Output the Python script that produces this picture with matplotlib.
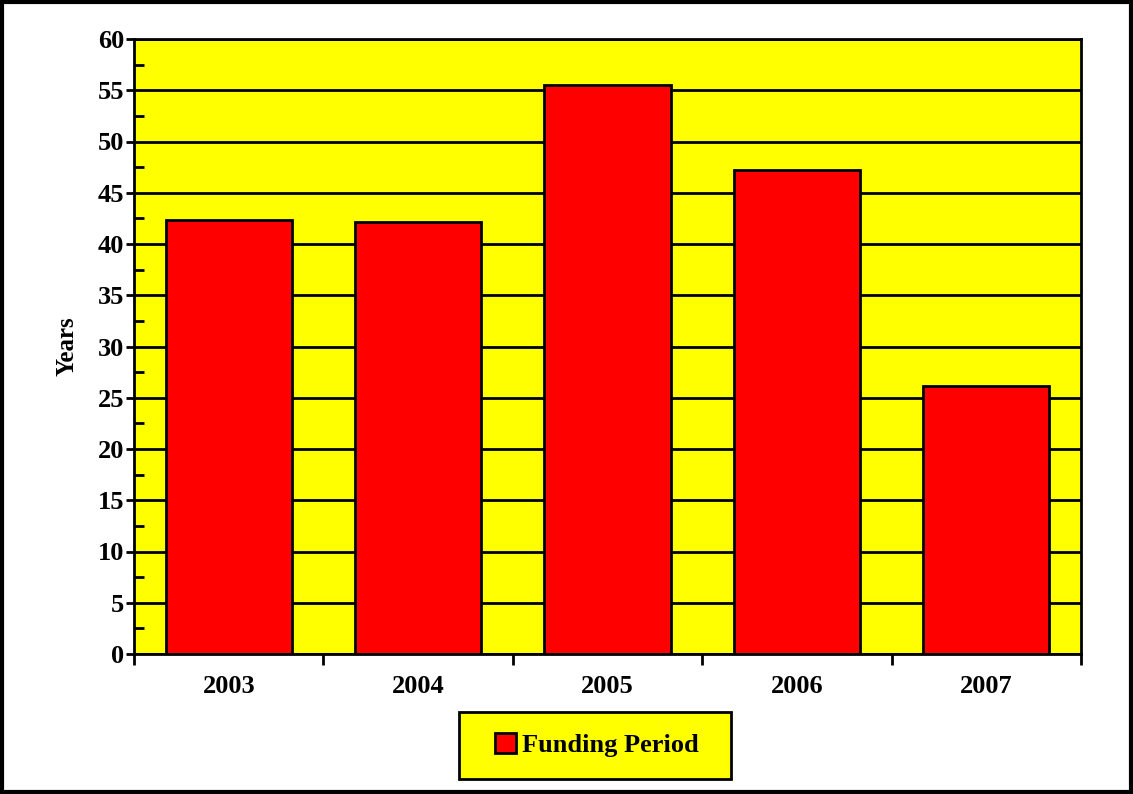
import matplotlib.pyplot as plt
from matplotlib.patches import Rectangle
from matplotlib.ticker import MultipleLocator, FixedLocator, NullFormatter
import numpy as np

years = ['2003', '2004', '2005', '2006', '2007']
funding_period = [42.3, 42.15, 55.5, 47.2, 26.1]

plt.rcParams['font.family'] = ['Liberation Serif', 'DejaVu Serif']
plt.rcParams['font.weight'] = 'bold'

W, H = 1133, 794
fig = plt.figure(figsize=(W / 100, H / 100), dpi=100)
ax = fig.add_axes([134 / W, 1 - 654 / H, (1081 - 134) / W, (654 - 39) / H])
ax.set_facecolor('#ffff00')

x = np.arange(len(years))
ax.bar(x, funding_period, width=0.667, color='#ff0000', edgecolor='black',
       linewidth=2, zorder=3, label='Funding Period')

ax.set_xlim(-0.5, len(years) - 0.5)
ax.set_ylim(0, 60)
ax.yaxis.set_major_locator(MultipleLocator(5))
ax.yaxis.set_minor_locator(MultipleLocator(2.5))
ax.grid(axis='y', which='major', color='black', linewidth=2, zorder=1)

ax.set_xticks(x)
ax.set_xticklabels(years, fontsize=19, fontweight='bold')
ax.tick_params(axis='x', which='major', length=0, pad=15)
ax.xaxis.set_minor_locator(FixedLocator(np.arange(-0.5, len(years), 1)))
ax.xaxis.set_minor_formatter(NullFormatter())
ax.tick_params(axis='x', which='minor', length=8, width=2, direction='out')

ax.tick_params(axis='y', which='major', labelsize=19, length=6, width=2,
               direction='out', pad=1)
ax.tick_params(axis='y', which='minor', length=7, width=2, direction='in')
for lbl in ax.get_yticklabels():
    lbl.set_fontweight('bold')

for s in ax.spines.values():
    s.set_linewidth(2)
    s.set_zorder(4)

ax.set_ylabel('Years', fontsize=18, fontweight='bold', labelpad=14)

# legend box (drawn by hand so it can be wider than its content)
fig.patches.append(Rectangle((459 / W, 1 - 779 / H), (731 - 459) / W, (779 - 712) / H,
                             transform=fig.transFigure, facecolor='#ffff00',
                             edgecolor='black', linewidth=2, zorder=-1))
leg = ax.legend(loc='center', bbox_to_anchor=((597 - 134) / 947, -(745 - 654) / 615),
                frameon=False, fontsize=19, borderpad=0.8,
                handlelength=0.8, handleheight=0.8, handletextpad=0.25,
                borderaxespad=0)
for t in leg.get_texts():
    t.set_fontweight('bold')

fig.patches.append(Rectangle((2 / W, 2 / H), 1 - 4 / W, 1 - 4 / H,
                             transform=fig.transFigure, fill=False,
                             edgecolor='black', linewidth=3))

fig.savefig('out.png', dpi=100)
